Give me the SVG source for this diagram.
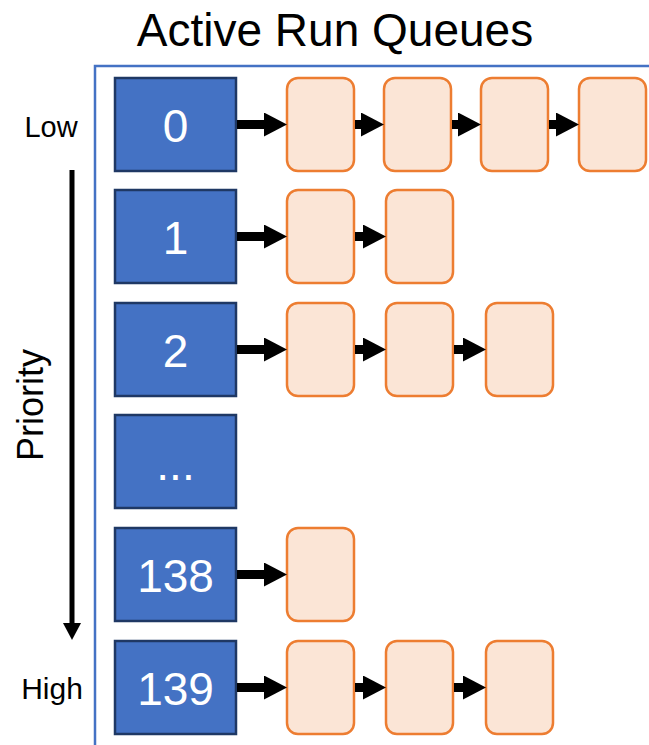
<svg xmlns="http://www.w3.org/2000/svg" width="649" height="745" viewBox="0 0 649 745">
  <style>
    .prio { fill: #4472C4; stroke: #1F3864; stroke-width: 2.5; }
    .task { fill: #FBE5D6; stroke: #ED7D31; stroke-width: 2.5; }
    .num { font-family: "Liberation Sans", Arial, sans-serif; font-size: 46px; fill: #FFFFFF; text-anchor: middle; }
    .lbl { font-family: "Liberation Sans", Arial, sans-serif; fill: #000000; text-anchor: middle; }
    .link { stroke: #000000; stroke-width: 9; marker-end: url(#head); }
  </style>
  <defs>
    <marker id="head" markerUnits="userSpaceOnUse" markerWidth="23" markerHeight="24" viewBox="0 0 23 24" refX="0" refY="12" orient="auto">
      <path d="M0,0 L23,12 L0,24 Z" fill="#000000"/>
    </marker>
  </defs>

  <rect width="649" height="745" fill="#FFFFFF"/>

  <!-- title and frame -->
  <text class="lbl" x="335" y="46" font-size="46">Active Run Queues</text>
  <path d="M95,745 V66 H649" fill="none" stroke="#4472C4" stroke-width="2.5"/>

  <!-- priority axis -->
  <g id="axis">
    <text class="lbl" x="51" y="137" font-size="29">Low</text>
    <text class="lbl" x="52" y="699" font-size="30">High</text>
    <text class="lbl" font-size="36" transform="translate(43,405) rotate(-90)">Priority</text>
    <line x1="72" y1="170" x2="72" y2="624" stroke="#000000" stroke-width="5"/>
    <path d="M63,623 L81,623 L72,640 Z" fill="#000000"/>
  </g>

  <!-- priority slots -->
  <g id="prio-0"><rect class="prio" x="115" y="78" width="121" height="93"/><text class="num" x="175.5" y="142">0</text></g>
  <g id="prio-1"><rect class="prio" x="115" y="190" width="121" height="93"/><text class="num" x="175.5" y="254">1</text></g>
  <g id="prio-2"><rect class="prio" x="115" y="303" width="121" height="93"/><text class="num" x="175.5" y="367">2</text></g>
  <g id="prio-more"><rect class="prio" x="115" y="415" width="121" height="93"/><text class="num" x="175.5" y="480">...</text></g>
  <g id="prio-138"><rect class="prio" x="115" y="528" width="121" height="93"/><text class="num" x="175.5" y="592">138</text></g>
  <g id="prio-139"><rect class="prio" x="115" y="641" width="121" height="93"/><text class="num" x="175.5" y="705">139</text></g>

  <!-- queued tasks -->
  <g id="q0-t0"><rect class="task" x="287" y="78" width="67" height="93" rx="11"/></g>
  <g id="q0-t1"><rect class="task" x="384" y="78" width="67" height="93" rx="11"/></g>
  <g id="q0-t2"><rect class="task" x="481" y="78" width="67" height="93" rx="11"/></g>
  <g id="q0-t3"><rect class="task" x="579" y="78" width="67" height="93" rx="11"/></g>

  <g id="q1-t0"><rect class="task" x="287" y="190" width="67" height="93" rx="11"/></g>
  <g id="q1-t1"><rect class="task" x="386" y="190" width="67" height="93" rx="11"/></g>

  <g id="q2-t0"><rect class="task" x="287" y="303" width="67" height="93" rx="11"/></g>
  <g id="q2-t1"><rect class="task" x="386" y="303" width="67" height="93" rx="11"/></g>
  <g id="q2-t2"><rect class="task" x="486" y="303" width="67" height="93" rx="11"/></g>

  <g id="q138-t0"><rect class="task" x="287" y="528" width="67" height="93" rx="11"/></g>

  <g id="q139-t0"><rect class="task" x="287" y="641" width="67" height="93" rx="11"/></g>
  <g id="q139-t1"><rect class="task" x="386" y="641" width="67" height="93" rx="11"/></g>
  <g id="q139-t2"><rect class="task" x="486" y="641" width="67" height="93" rx="11"/></g>

  <!-- links -->
  <g id="connectors">
    <line class="link" x1="237" y1="124.5" x2="264" y2="124.5"/>
    <line class="link" x1="355" y1="124.5" x2="361" y2="124.5"/>
    <line class="link" x1="452" y1="124.5" x2="458" y2="124.5"/>
    <line class="link" x1="549" y1="124.5" x2="556" y2="124.5"/>

    <line class="link" x1="237" y1="236.5" x2="264" y2="236.5"/>
    <line class="link" x1="355" y1="236.5" x2="363" y2="236.5"/>

    <line class="link" x1="237" y1="349.5" x2="264" y2="349.5"/>
    <line class="link" x1="355" y1="349.5" x2="363" y2="349.5"/>
    <line class="link" x1="454" y1="349.5" x2="463" y2="349.5"/>

    <line class="link" x1="237" y1="574.5" x2="264" y2="574.5"/>

    <line class="link" x1="237" y1="687.5" x2="264" y2="687.5"/>
    <line class="link" x1="355" y1="687.5" x2="363" y2="687.5"/>
    <line class="link" x1="454" y1="687.5" x2="463" y2="687.5"/>
  </g>
</svg>
